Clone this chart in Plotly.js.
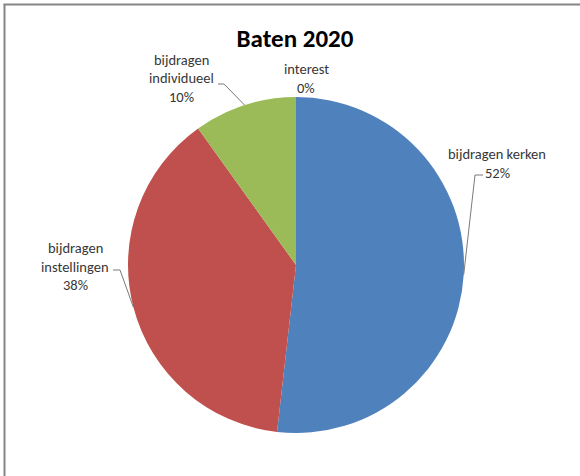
<!DOCTYPE html>
<html>
<head>
<meta charset="utf-8">
<script src="https://cdn.plot.ly/plotly-3.0.1.min.js"></script>
<style>html,body{margin:0;padding:0;background:#fff}#chart{width:580px;height:476px}</style>
</head>
<body>
<div id="chart"></div>
<script>
// ---- data ----
const categories = ["bijdragen kerken", "bijdragen instellingen", "bijdragen individueel", "interest"];
const values = [51.8, 38.3, 9.9, 0];
const colors = ["#4F81BD", "#C0504D", "#9BBB59", "#F79646"];
const titleText = "Baten 2020";

// ---- layout helpers (pixels) ----
const W = 580, H = 476;
const cx = 296, cy = 265, R = 168;
const px = x => x / W, py = y => 1 - y / H;

// label layout: centre x, first line y, leader end/elbow (null = no leader)
const labelLayout = [
  {lines: ["bijdragen kerken", "PCT"], x: 497, y: 154, elbow: [[483, 175], [475, 175]]},
  {lines: ["bijdragen", "instellingen", "PCT"], x: 75, y: 248, elbow: [[113, 270], [120, 270]]},
  {lines: ["bijdragen", "individueel", "PCT"], x: 181, y: 60, elbow: [[218, 84], [224, 84]]},
  {lines: ["interest", "PCT"], x: 306, y: 69, elbow: null}
];
const lineStep = 18.5;
const labelFont = {family: "Carlito, Calibri, Lato, sans-serif", size: 14.5, color: "#363636"};

const total = values.reduce((a, b) => a + b, 0);
const annotations = [];
const shapes = [];
let cum = 0;
values.forEach((v, i) => {
  const mid = (cum + v / 2) / total * 2 * Math.PI;
  cum += v;
  const pct = Math.round(v / total * 100) + "%";
  const L = labelLayout[i];
  L.lines.forEach((t, k) => {
    annotations.push({
      xref: "paper", yref: "paper", x: px(L.x), y: py(L.y + k * lineStep),
      xanchor: "center", yanchor: "middle", showarrow: false,
      text: t === "PCT" ? pct : t,
      font: labelFont
    });
  });
  if (L.elbow && v > 0) {
    const ex = cx + R * Math.sin(mid), ey = cy - R * Math.cos(mid);
    const p = [L.elbow[0], L.elbow[1], [ex, ey]];
    const d = "M" + p.map(q => px(q[0]) + "," + py(q[1])).join(" L");
    shapes.push({type: "path", xref: "paper", yref: "paper", path: d,
      line: {color: "#7a7a7a", width: 1}});
  }
});

// frame (left and top edges)
shapes.push({type: "line", xref: "paper", yref: "paper", x0: px(4.5), x1: px(4.5), y0: 0, y1: py(4.5),
  line: {color: "#858585", width: 2}});
shapes.push({type: "line", xref: "paper", yref: "paper", x0: px(3.5), x1: 1, y0: py(4.5), y1: py(4.5),
  line: {color: "#858585", width: 2}});

const trace = {
  type: "pie",
  labels: categories,
  values: values,
  sort: false,
  direction: "clockwise",
  rotation: 0,
  textinfo: "none",
  hoverinfo: "label+percent",
  marker: {colors: colors, line: {width: 0}},
  showlegend: false,
  domain: {x: [px(cx - R), px(cx + R)], y: [py(cy + R), py(cy - R)]}
};

const layout = {
  width: W, height: H,
  margin: {l: 0, r: 0, t: 0, b: 0},
  paper_bgcolor: "#ffffff",
  title: {text: "<b>" + titleText + "</b>", x: px(295), xanchor: "center",
    y: py(38), yanchor: "middle", yref: "container",
    font: {family: "Carlito, Calibri, Lato, sans-serif", size: 25, color: "#000000"}},
  annotations: annotations,
  shapes: shapes
};

Plotly.newPlot("chart", [trace], layout, {displayModeBar: false, staticPlot: true});
</script>
</body>
</html>
